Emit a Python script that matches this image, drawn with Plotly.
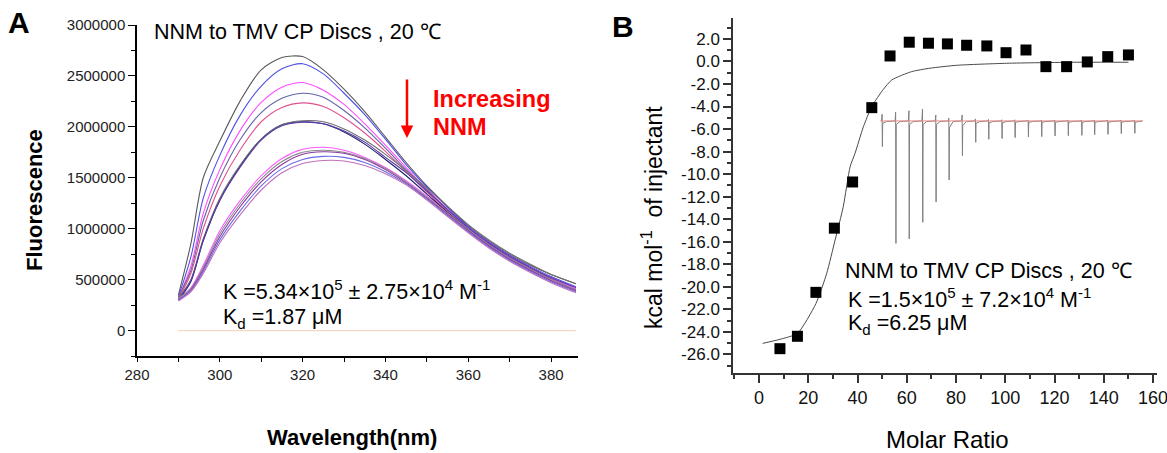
import plotly.graph_objects as go

W, H = 1167, 453
FONT = "Arial, Liberation Sans, sans-serif"

# ---------------- Panel A data (fluorescence spectra, values in millions) ----------------
WAVELENGTH = [290, 293, 296, 300, 305, 310, 315, 320, 325, 330, 335, 340, 345, 350, 355, 360, 365, 370, 375, 380, 386]
SPEC_1 = [0.35, 0.85, 1.50, 1.86, 2.26, 2.56, 2.68, 2.69, 2.56, 2.37, 2.15, 1.90, 1.65, 1.42, 1.22, 1.03, 0.88, 0.75, 0.64, 0.55, 0.46]
SPEC_2 = [0.33, 0.72, 1.30, 1.72, 2.12, 2.40, 2.57, 2.62, 2.52, 2.33, 2.12, 1.88, 1.63, 1.41, 1.21, 1.02, 0.87, 0.74, 0.63, 0.53, 0.43]
SPEC_3 = [0.32, 0.63, 1.15, 1.58, 1.97, 2.24, 2.39, 2.435, 2.36, 2.22, 2.03, 1.82, 1.60, 1.39, 1.19, 1.01, 0.86, 0.73, 0.62, 0.52, 0.42]
SPEC_4 = [0.33, 0.59, 1.08, 1.50, 1.88, 2.14, 2.28, 2.33, 2.29, 2.16, 1.99, 1.79, 1.58, 1.38, 1.18, 1.00, 0.85, 0.72, 0.61, 0.51, 0.41]
SPEC_5 = [0.31, 0.56, 1.00, 1.42, 1.78, 2.05, 2.19, 2.235, 2.20, 2.09, 1.94, 1.76, 1.56, 1.36, 1.17, 0.99, 0.84, 0.71, 0.60, 0.50, 0.40]
SPEC_6 = [0.30, 0.48, 0.88, 1.28, 1.62, 1.88, 2.02, 2.05, 2.03, 1.95, 1.83, 1.68, 1.52, 1.34, 1.16, 0.99, 0.84, 0.71, 0.60, 0.50, 0.40]
SPEC_7 = [0.32, 0.50, 0.90, 1.30, 1.63, 1.88, 2.02, 2.06, 2.05, 1.98, 1.87, 1.73, 1.57, 1.40, 1.22, 1.04, 0.89, 0.76, 0.65, 0.55, 0.46]
SPEC_8 = [0.31, 0.49, 0.89, 1.28, 1.61, 1.87, 2.01, 2.045, 2.03, 1.96, 1.85, 1.70, 1.55, 1.37, 1.19, 1.01, 0.86, 0.73, 0.62, 0.52, 0.42]
SPEC_9 = [0.31, 0.42, 0.64, 0.98, 1.28, 1.52, 1.69, 1.78, 1.80, 1.77, 1.70, 1.60, 1.47, 1.32, 1.15, 0.99, 0.84, 0.71, 0.60, 0.50, 0.41]
SPEC_10 = [0.32, 0.41, 0.62, 0.95, 1.25, 1.49, 1.66, 1.75, 1.77, 1.75, 1.69, 1.59, 1.46, 1.31, 1.15, 0.99, 0.84, 0.71, 0.60, 0.50, 0.40]
SPEC_11 = [0.30, 0.40, 0.60, 0.92, 1.22, 1.46, 1.63, 1.73, 1.755, 1.74, 1.68, 1.58, 1.45, 1.30, 1.14, 0.98, 0.83, 0.70, 0.59, 0.49, 0.39]
SPEC_12 = [0.30, 0.39, 0.58, 0.89, 1.18, 1.42, 1.59, 1.68, 1.71, 1.70, 1.65, 1.56, 1.44, 1.29, 1.13, 0.97, 0.82, 0.69, 0.58, 0.48, 0.38]
SPEC_13 = [0.29, 0.38, 0.56, 0.86, 1.14, 1.38, 1.55, 1.64, 1.67, 1.665, 1.62, 1.54, 1.43, 1.28, 1.12, 0.96, 0.81, 0.68, 0.57, 0.47, 0.37]
SPECTRA = [SPEC_1, SPEC_2, SPEC_3, SPEC_4, SPEC_5, SPEC_6, SPEC_7, SPEC_8, SPEC_9, SPEC_10, SPEC_11, SPEC_12, SPEC_13]
SPEC_COLORS = ["#5a5a5a", "#4f4fe6", "#ff4dff", "#6464a6", "#e0508c", "#1e1e6e", "#707070",
               "#5a3aa8", "#ff5aff", "#8c8c8c", "#8a3a9a", "#6a6ae8", "#c070b8"]
BASELINE_WL = [290, 386]
BASELINE_VAL = [0, 0]

A_XTICKS = [280, 300, 320, 340, 360, 380]
A_YTICKS = [0, 500000, 1000000, 1500000, 2000000, 2500000, 3000000]

# ---------------- Panel B data (ITC) ----------------
MOLAR_RATIO = [8.5, 15.6, 23.1, 30.6, 38.0, 45.8, 53.2, 61.0, 68.8, 76.5, 84.3, 92.5, 100.3, 108.4, 116.5, 124.9, 133.3, 141.6, 150.0]
HEAT = [-25.5, -24.4, -20.5, -14.8, -10.7, -4.1, 0.49, 1.71, 1.62, 1.56, 1.44, 1.38, 0.78, 1.02, -0.46, -0.46, -0.04, 0.43, 0.58]
FIT_X = [1.5, 8.5, 15.6, 23.1, 27.5, 30.9, 34.2, 37.0, 39.0, 42.4, 45.8, 50.5, 53.9, 62.0, 69.4, 80.3, 100.6, 127.6, 150.0]
FIT_Y = [-25.03, -24.67, -24.14, -21.5, -18.8, -15.85, -12.9, -9.34, -8.15, -5.79, -4.0, -2.47, -1.64, -0.90, -0.60, -0.34, -0.16, -0.07, -0.07]

# inset raw thermogram (drawn in the same axis units)
ITC_SPIKE_X = [50.1, 55.6, 61.0, 66.5, 71.9, 77.2, 82.6, 88.0, 93.3, 98.7, 104.0, 109.4, 114.8, 120.2, 125.6, 131.1, 136.3, 141.7, 147.1, 152.6]
ITC_SPIKE_TIP = [-4.69, -4.51, -4.37, -4.22, -4.75, -5.04, -4.75, -5.10, -5.15, -5.18, -5.18, -5.20, -5.20, -5.20, -5.20, -5.20, -5.20, -5.20, -5.20, -5.20]
ITC_SPIKE_DEPTH = [-7.56, -16.15, -15.76, -14.28, -12.48, -10.52, -8.36, -7.18, -6.91, -6.85, -6.76, -6.70, -6.67, -6.61, -6.59, -6.56, -6.50, -6.47, -6.41, -6.38]
ITC_SPIKE_HOOK = [-5.5, -5.6, -5.6, -5.6, -5.6, -5.9, -5.7, -5.5, -5.45, -5.45, -5.4, -5.4, -5.4, -5.4, -5.4, -5.4, -5.4, -5.4, -5.4, -5.4]
ITC_BASE = -5.28
ITC_RANGE = [49.4, 155.8]

B_XTICKS = [0, 20, 40, 60, 80, 100, 120, 140, 160]
B_YTICKS = [2, 0, -2, -4, -6, -8, -10, -12, -14, -16, -18, -20, -22, -24, -26]
B_YTICKTEXT = ["%.1f" % v for v in B_YTICKS]


def px(x):
    return x / W


def py(y):
    return 1 - y / H


fig = go.Figure()

# Panel A traces
fig.add_trace(go.Scatter(x=BASELINE_WL, y=BASELINE_VAL, mode="lines",
                         line=dict(color="#f6d8c4", width=1.2), xaxis="x", yaxis="y", showlegend=False))
for spec, col in zip(SPECTRA, SPEC_COLORS):
    fig.add_trace(go.Scatter(x=WAVELENGTH, y=[v * 1e6 for v in spec], mode="lines",
                             line=dict(color=col, width=1.1, shape="spline", smoothing=0.8),
                             xaxis="x", yaxis="y", showlegend=False))

# Panel B thermogram inset
tx, ty = [ITC_RANGE[0]], [ITC_BASE]
for sx, tip, dep, hook in zip(ITC_SPIKE_X, ITC_SPIKE_TIP, ITC_SPIKE_DEPTH, ITC_SPIKE_HOOK):
    tx += [sx - 0.35, sx - 0.12, sx, sx + 0.12, sx + 1.6]
    ty += [ITC_BASE, tip, dep, hook, ITC_BASE - 0.05]
tx.append(ITC_RANGE[1])
ty.append(ITC_BASE)
fig.add_trace(go.Scatter(x=tx, y=ty, mode="lines", line=dict(color="#808080", width=1),
                         xaxis="x2", yaxis="y2", showlegend=False))
fig.add_trace(go.Scatter(x=ITC_RANGE, y=[ITC_BASE, ITC_BASE], mode="lines",
                         line=dict(color="#f08a8a", width=1), xaxis="x2", yaxis="y2", showlegend=False))

# Panel B fit + data
fig.add_trace(go.Scatter(x=FIT_X, y=FIT_Y, mode="lines",
                         line=dict(color="#4a4a4a", width=1, shape="spline", smoothing=0.6),
                         xaxis="x2", yaxis="y2", showlegend=False))
fig.add_trace(go.Scatter(x=MOLAR_RATIO, y=HEAT, mode="markers",
                         marker=dict(symbol="square", size=11, color="black"),
                         xaxis="x2", yaxis="y2", showlegend=False))

axis_common = dict(showgrid=False, zeroline=False, showline=True, automargin=False)

B_XRANGE = [-10.56, 161.6]
B_YRANGE = [-27.66, 3.86]

fig.update_layout(
    width=W, height=H, autosize=False,
    margin=dict(l=0, r=0, t=0, b=0),
    paper_bgcolor="white", plot_bgcolor="rgba(0,0,0,0)",
    font=dict(family=FONT, color="black"),
    xaxis=dict(domain=[px(137), px(578)], range=[280, 386.5], anchor="y",
               tickmode="array", tickvals=A_XTICKS, ticks="outside", ticklen=4, tickwidth=1,
               minor=dict(ticks="outside", ticklen=4, dtick=10, tick0=280, tickcolor="black"),
               linecolor="black", linewidth=1.5, tickcolor="black",
               tickfont=dict(size=15, color="#222"), **axis_common),
    yaxis=dict(domain=[py(356), py(25)], range=[-250000, 3000000], anchor="x",
               tickmode="array", tickvals=A_YTICKS, tickformat="d",
               ticks="outside", ticklen=7, tickwidth=1,
               minor=dict(ticks="outside", ticklen=4, dtick=250000, tick0=0, tickcolor="black"),
               linecolor="black", linewidth=1.5, tickcolor="black",
               tickfont=dict(size=15, color="#222"), **axis_common),
    xaxis2=dict(domain=[px(733), px(1157)], range=B_XRANGE, anchor="y2",
                tickmode="array", tickvals=B_XTICKS, ticks="outside", ticklen=8, tickwidth=1.5,
                minor=dict(ticks="outside", ticklen=4, dtick=10, tick0=0, tickcolor="#333"),
                linecolor="#333", linewidth=1.5, tickcolor="#333", ticklabeloverflow="allow",
                tickfont=dict(size=18, color="#111"), **axis_common),
    yaxis2=dict(domain=[py(373), py(18)], range=B_YRANGE, anchor="x2",
                tickmode="array", tickvals=B_YTICKS, ticktext=B_YTICKTEXT,
                ticks="outside", ticklen=8, tickwidth=1.5,
                minor=dict(ticks="outside", ticklen=4, dtick=1, tick0=0, tickcolor="#333"),
                linecolor="#333", linewidth=1.5, tickcolor="#333",
                tickfont=dict(size=17, color="#111"), **axis_common),
    xaxis3=dict(overlaying="x2", anchor="y2", side="top", range=B_XRANGE,
                tickmode="array", tickvals=B_XTICKS, ticks="inside", ticklen=8, tickwidth=1.5,
                minor=dict(ticks="inside", ticklen=4, dtick=10, tick0=0, tickcolor="#333"),
                showticklabels=False, linecolor="#999", linewidth=1.5, tickcolor="#333", **axis_common),
    yaxis3=dict(overlaying="y2", anchor="x2", side="right", range=B_YRANGE,
                tickmode="array", tickvals=B_YTICKS, ticks="inside", ticklen=8, tickwidth=1.5,
                minor=dict(ticks="inside", ticklen=4, dtick=1, tick0=0, tickcolor="#333"),
                showticklabels=False, linecolor="#333", linewidth=1.5, tickcolor="#333", **axis_common),
)

ann = []


def text(x, y, s, size, bold=False, color="black", xanchor="left", angle=0):
    ann.append(dict(x=px(x), y=py(y), xref="paper", yref="paper", text=("<b>%s</b>" % s) if bold else s,
                    showarrow=False, xanchor=xanchor, yanchor="middle", textangle=angle,
                    font=dict(family=FONT, size=size, color=color)))


# Panel A texts
text(6, 22, "A", 30, bold=True)
text(152, 32, "NNM to TMV CP Discs , 20 ℃", 21.5)
text(431, 99, "Increasing", 23.5, bold=True, color="#ff0000")
text(431, 127, "NNM", 23.5, bold=True, color="#ff0000")
text(221, 290, "K =5.34×10<sup>5</sup> ± 2.75×10<sup>4</sup> M<sup>-1</sup>", 21.5)
text(221, 318, "K<sub>d</sub> =1.87 μM", 21.5)
text(34, 200, "Fluorescence", 22, bold=True, xanchor="center", angle=-90)
text(352, 437, "Wavelength(nm)", 22, bold=True, xanchor="center")
ann.append(dict(x=px(407), y=py(138), xref="paper", yref="paper", ax=0, ay=-60, axref="pixel", ayref="pixel",
                text="", showarrow=True, arrowhead=2, arrowsize=1, arrowwidth=2.5, arrowcolor="#ff0000"))

# Panel B texts
text(610, 27, "B", 30, bold=True)
text(843, 271, "NNM to TMV CP Discs , 20 ℃", 21.5)
text(846, 298, "K =1.5×10<sup>5</sup> ± 7.2×10<sup>4</sup> M<sup>-1</sup>", 21.5)
text(846, 324, "K<sub>d</sub> =6.25 μM", 21.5)
text(652, 218, "kcal mol<sup>-1</sup>  of injectant", 23, xanchor="center", angle=-90)
text(947, 439, "Molar Ratio", 24, xanchor="center")

fig.update_layout(annotations=ann)

fig.write_html("out.html", config={"displayModeBar": False},
               post_script="document.body.style.margin='0';document.body.style.overflow='hidden';")
